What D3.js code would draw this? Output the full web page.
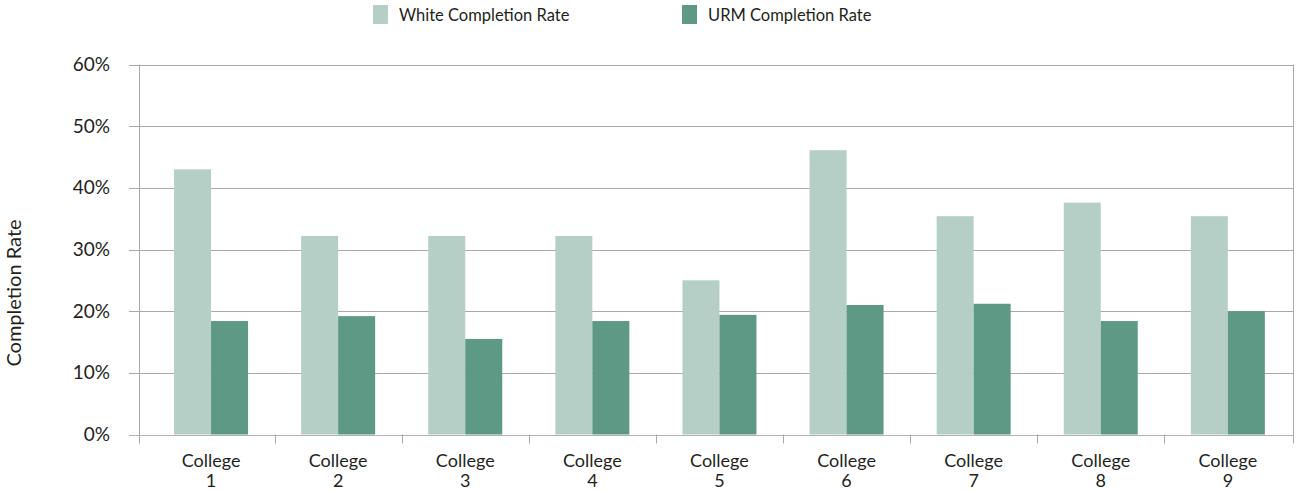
<!DOCTYPE html>
<html>
<head>
<meta charset="utf-8">
<script src="https://cdn.jsdelivr.net/npm/d3@7"></script>
<style>
body { margin: 0; background: #fff; }
text { font-family: Lato, "Open Sans", sans-serif; fill: #231f20; }
</style>
</head>
<body>
<script>
var colleges = ["1", "2", "3", "4", "5", "6", "7", "8", "9"];
var seriesNames = ["White Completion Rate", "URM Completion Rate"];
var whiteRate = [43.0, 32.2, 32.2, 32.2, 25.0, 46.1, 35.4, 37.6, 35.4];
var urmRate = [18.4, 19.2, 15.5, 18.4, 19.4, 21.0, 21.2, 18.4, 20.0];
var yTicks = [0, 10, 20, 30, 40, 50, 60];
var colors = ["#b5cfc6", "#5e9986"];

var width = 1296, height = 491;
var plotLeft = 139.5, plotRight = 1294, plotTop = 64.5, plotBottom = 434.5;

var svg = d3.select("body").append("svg")
    .attr("width", width).attr("height", height);

// bands are a little narrower than the frame, as in the original
var x = d3.scaleBand().domain(colleges).range([147.5, 1291.4]).paddingInner(0).paddingOuter(0);
var x1 = d3.scaleBand().domain([0, 1]).range([0, 74]);
var y = d3.scaleLinear().domain([0, 60]).range([plotBottom, plotTop]);

// gridlines
svg.append("g").selectAll("line").data(yTicks).enter().append("line")
    .attr("x1", 129).attr("x2", plotRight)
    .attr("y1", function(d) { return Math.round(y(d)) + 0.5; })
    .attr("y2", function(d) { return Math.round(y(d)) + 0.5; })
    .attr("stroke", function(d) { return d == 0 ? "#b3b3b3" : "#a7a9ac"; })
    .attr("stroke-width", 1);

// y labels
svg.append("g").selectAll("text").data(yTicks).enter().append("text")
    .attr("x", 110).attr("y", function(d) { return y(d); })
    .attr("dy", "0.35em").attr("text-anchor", "end")
    .style("font-size", "19px")
    .text(function(d) { return d + "%"; });

// bars
var groups = svg.append("g").selectAll("g").data(colleges).enter().append("g")
    .attr("transform", function(d) { return "translate(" + (x(d) + (x.bandwidth() - 74) / 2) + ",0)"; });
groups.selectAll("rect")
    .data(function(d, i) { return [whiteRate[i], urmRate[i]]; })
    .enter().append("rect")
    .attr("x", function(d, j) { return x1(j); })
    .attr("width", x1.bandwidth())
    .attr("y", function(d) { return y(d); })
    .attr("height", function(d) { return plotBottom - y(d); })
    .attr("fill", function(d, j) { return colors[j]; });

// frame: left axis and right border
svg.append("line").attr("x1", plotLeft).attr("x2", plotLeft).attr("y1", plotTop).attr("y2", plotBottom + 9)
    .attr("stroke", "#a7a9ac");
svg.append("line").attr("x1", plotRight - 0.5).attr("x2", plotRight - 0.5).attr("y1", plotTop).attr("y2", plotBottom + 9)
    .attr("stroke", "#a7a9ac");

// x ticks
svg.append("g").selectAll("line").data(colleges.slice(1)).enter().append("line")
    .attr("x1", function(d) { return Math.round(x(d)) + 0.5; })
    .attr("x2", function(d) { return Math.round(x(d)) + 0.5; })
    .attr("y1", plotBottom).attr("y2", plotBottom + 9)
    .attr("stroke", "#a7a9ac");

// x labels, two lines each
var xl = svg.append("g").selectAll("g").data(colleges).enter().append("g")
    .attr("transform", function(d) { return "translate(" + (x(d) + x.bandwidth() / 2) + ",0)"; });
xl.append("text").attr("text-anchor", "middle").attr("y", 467)
    .style("font-size", "18px").text("College");
xl.append("text").attr("text-anchor", "middle").attr("y", 487)
    .style("font-size", "18px").text(function(d) { return d; });

// y title
svg.append("text")
    .attr("transform", "translate(21,293) rotate(-90)")
    .attr("text-anchor", "middle")
    .style("font-size", "20px")
    .text("Completion Rate");

// legend
var legX = [373, 682];
var leg = svg.append("g").selectAll("g").data(seriesNames).enter().append("g")
    .attr("transform", function(d, i) { return "translate(" + legX[i] + ",5)"; });
leg.append("rect").attr("width", 15).attr("height", 19)
    .attr("fill", function(d, i) { return colors[i]; });
leg.append("text").attr("x", 26).attr("y", 10).attr("dy", "0.35em")
    .style("font-size", "16.5px")
    .text(function(d) { return d; });
</script>
</body>
</html>
